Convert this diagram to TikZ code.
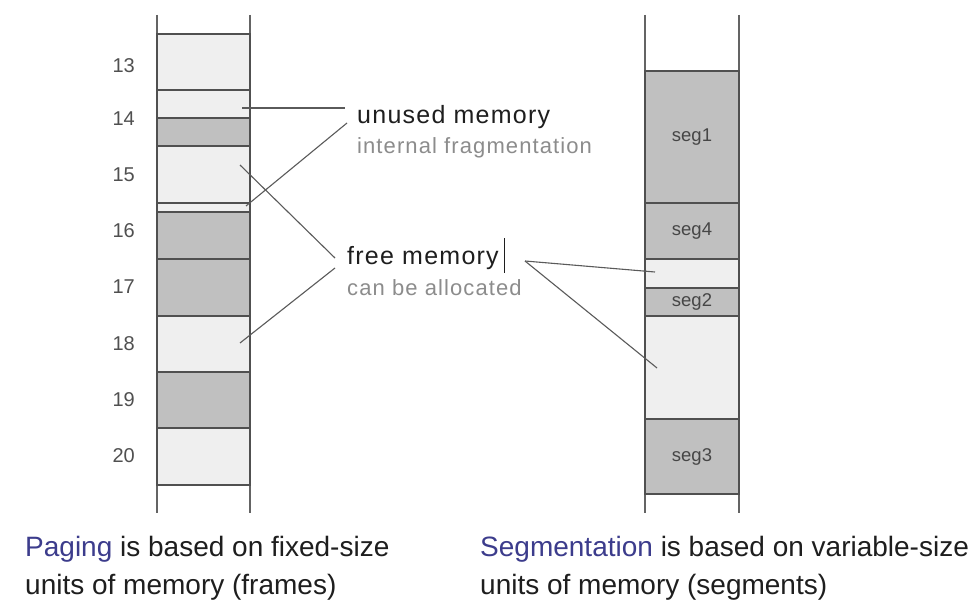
\documentclass[tikz,border=0pt]{standalone}
\usepackage{fontspec}
\setmainfont{Liberation Sans}
\newfontfamily\spacedfont[LetterSpace=5]{Liberation Sans}
\newfontfamily\spacedgray[LetterSpace=5]{Liberation Sans}
\definecolor{lightfill}{RGB}{239,239,239}
\definecolor{darkfill}{RGB}{192,192,192}
\definecolor{cellline}{RGB}{80,80,80}
\definecolor{railcol}{RGB}{100,100,100}
\definecolor{conncol}{RGB}{90,90,90}
\definecolor{graytext}{RGB}{140,140,140}
\definecolor{blacktext}{RGB}{30,30,30}
\definecolor{numtext}{RGB}{80,80,80}
\definecolor{segtext}{RGB}{70,70,70}
\definecolor{bluetext}{RGB}{60,60,140}
\begin{document}
\begin{tikzpicture}[x=1pt,y=-1pt,
  cell/.style={draw=cellline, line width=1.5pt, inner sep=0pt, outer sep=0pt},
  leftcell/.style={cell, minimum width=93pt},
  rightcell/.style={cell, minimum width=94pt},
  lightcell/.style={fill=lightfill},
  darkcell/.style={fill=darkfill},
  rail/.style={draw=railcol, line width=1.2pt},
  conn/.style={draw=conncol, line width=1.1pt},
  cursor/.style={draw=blacktext, line width=0.8pt},
  numlbl/.style={anchor=east, inner sep=0pt, text=numtext, font=\fontsize{20}{24}\selectfont},
  seglbl/.style={inner sep=0pt, text=segtext, font=\fontsize{18.5}{22}\selectfont},
  headtxt/.style={anchor=base west, inner sep=0pt, text=blacktext, font=\spacedfont\fontsize{25}{30}\selectfont},
  subtxt/.style={anchor=base west, inner sep=0pt, text=graytext, font=\spacedgray\fontsize{22}{26}\selectfont},
  captxt/.style={anchor=base west, inner sep=0pt, text=blacktext, font=\fontsize{28}{34}\selectfont}
]
\useasboundingbox (0,0) rectangle (978,607);
\fill[white] (0,0) rectangle (978,607);

% rails
\coordinate (lrt1) at (157,15); \coordinate (lrb1) at (157,513);
\coordinate (lrt2) at (250,15); \coordinate (lrb2) at (250,513);
\coordinate (rrt1) at (645,15); \coordinate (rrb1) at (645,513);
\coordinate (rrt2) at (739,15); \coordinate (rrb2) at (739,513);
\draw[rail] (lrt1) -- (lrb1);
\draw[rail] (lrt2) -- (lrb2);
\draw[rail] (rrt1) -- (rrb1);
\draw[rail] (rrt2) -- (rrb2);

% paging column
\node[leftcell, lightcell, minimum height=56pt] (F1) at (203.5,62) {};
\node[leftcell, lightcell, minimum height=28pt] (U1) at (203.5,104) {};
\node[leftcell, darkcell,  minimum height=28pt] (D1) at (203.5,132) {};
\node[leftcell, lightcell, minimum height=57pt] (F3) at (203.5,174.5) {};
\node[leftcell, lightcell, minimum height=9pt]  (U2) at (203.5,207.5) {};
\node[leftcell, darkcell,  minimum height=47pt] (D2) at (203.5,235.5) {};
\node[leftcell, darkcell,  minimum height=57pt] (D3) at (203.5,287.5) {};
\node[leftcell, lightcell, minimum height=56pt] (F6) at (203.5,344) {};
\node[leftcell, darkcell,  minimum height=56pt] (D4) at (203.5,400) {};
\node[leftcell, lightcell, minimum height=57pt] (F8) at (203.5,456.5) {};

% frame numbers
\node[numlbl] (n13) at (135,66) {13};
\node[numlbl] (n14) at (135,119) {14};
\node[numlbl] (n15) at (135,175) {15};
\node[numlbl] (n16) at (135,231) {16};
\node[numlbl] (n17) at (135,287) {17};
\node[numlbl] (n18) at (135,344) {18};
\node[numlbl] (n19) at (135,400) {19};
\node[numlbl] (n20) at (135,456) {20};

% segmentation column
\node[rightcell, darkcell,  minimum height=132pt] (S1) at (692,137) {};
\node[rightcell, darkcell,  minimum height=56pt]  (S4) at (692,231) {};
\node[rightcell, lightcell, minimum height=29pt]  (E1) at (692,273.5) {};
\node[rightcell, darkcell,  minimum height=28pt]  (S2) at (692,302) {};
\node[rightcell, lightcell, minimum height=103pt] (E2) at (692,367.5) {};
\node[rightcell, darkcell,  minimum height=75pt]  (S3) at (692,456.5) {};
\node[seglbl] (l1) at (S1.center) {seg1};
\node[seglbl] (l4) at (S4.center) {seg4};
\node[seglbl] (l2) at (S2.center) {seg2};
\node[seglbl] (l3) at (S3.center) {seg3};

% annotations
\node[headtxt] (unused) at (357,124) {unused memory};
\node[subtxt]  (internal) at (357,154) {internal fragmentation};
\node[headtxt] (free) at (347,264) {free memory};
\node[subtxt]  (alloc) at (347,295) {can be allocated};

% connector end points
\coordinate (pU1) at (242,108);
\coordinate (pU2) at (246,206);
\coordinate (pF3) at (240,165);
\coordinate (pF6) at (240,343);
\coordinate (pE1) at (655,272);
\coordinate (pE2) at (657,368);
\coordinate (aU1) at (345,108);
\coordinate (aU2) at (347,123);
\coordinate (aF1) at (335,258);
\coordinate (aF2) at (335,268);
\coordinate (aR) at (525,261);
\coordinate (cur1) at (504,238);
\coordinate (cur2) at (504,273);

\draw[conn] (pU1) -- (aU1);
\draw[conn] (pU2) -- (aU2);
\draw[conn] (pF3) -- (aF1);
\draw[conn] (pF6) -- (aF2);
\draw[conn] (aR) -- (pE1);
\draw[conn] (aR) -- (pE2);
\draw[cursor] (cur1) -- (cur2);

% captions
\node[captxt] (cap1a) at (25,556) {\textcolor{bluetext}{Paging} is based on fixed-size};
\node[captxt] (cap1b) at (25,594) {units of memory (frames)};
\node[captxt] (cap2a) at (480,556) {\textcolor{bluetext}{Segmentation} is based on variable-size};
\node[captxt] (cap2b) at (480,594) {units of memory (segments)};
\end{tikzpicture}
\end{document}
